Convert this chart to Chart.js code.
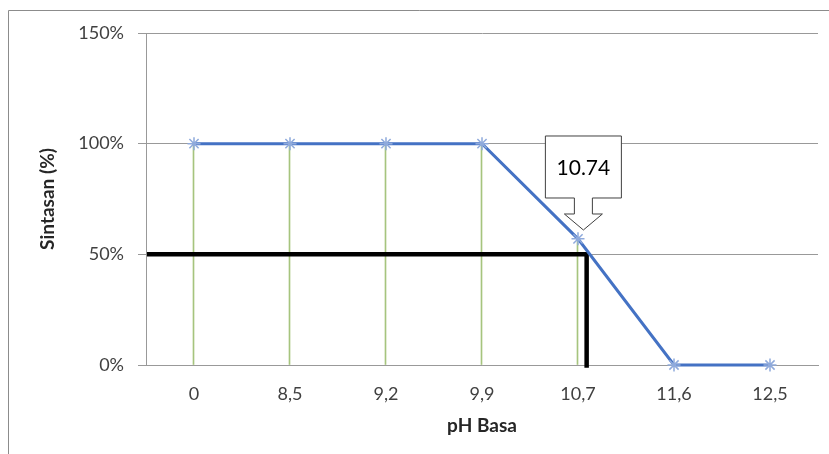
<!DOCTYPE html>
<html>
<head>
<meta charset="utf-8">
<script src="https://cdn.jsdelivr.net/npm/chart.js@4"></script>
<style>
  html, body { margin: 0; padding: 0; background: #fff; }
  #wrap { width: 829px; height: 454px; position: relative; }
</style>
</head>
<body>
<div id="wrap"><canvas id="c" width="829" height="454"></canvas></div>
<script>
// ---- data ----
const categories = ['0', '8,5', '9,2', '9,9', '10,7', '11,6', '12,5'];
const survival = [100, 100, 100, 100, 57, 0, 0];
const yTicks = [0, 50, 100, 150];
const lc50Label = '10.74';
const lc50Survival = 50;          // horizontal black line level (%)
const lc50Position = 4.09;        // position on category axis (index units)
const calloutTip = [4.056, 61];   // arrow tip [index units, %]

const FONT = 'Lato, "Open Sans", sans-serif';

const framePlugin = {
  id: 'frame',
  beforeDraw(chart) {
    const ctx = chart.ctx;
    ctx.save();
    ctx.fillStyle = '#fff';
    ctx.fillRect(0, 0, chart.width, chart.height);
    ctx.strokeStyle = '#8c8c8c';
    ctx.lineWidth = 1;
    ctx.beginPath();
    ctx.moveTo(8.5, chart.height + 2);
    ctx.lineTo(8.5, 10.5);
    ctx.lineTo(chart.width + 2, 10.5);
    ctx.stroke();
    ctx.restore();
  }
};

const calloutPlugin = {
  id: 'callout',
  afterDatasetsDraw(chart) {
    const ctx = chart.ctx;
    const xs = chart.scales.x2, ys = chart.scales.y;
    const tx = xs.getPixelForValue(calloutTip[0]);
    const ty = ys.getPixelForValue(calloutTip[1]);
    const boxL = tx - 38, boxR = tx + 38, boxT = ty - 94, boxB = ty - 32;
    const stemHalf = 9, headHalf = 19, headBase = ty - 16;
    ctx.save();
    ctx.beginPath();
    ctx.moveTo(boxL, boxT);
    ctx.lineTo(boxR, boxT);
    ctx.lineTo(boxR, boxB);
    ctx.lineTo(tx + stemHalf, boxB);
    ctx.lineTo(tx + stemHalf, headBase);
    ctx.lineTo(tx + headHalf, headBase);
    ctx.lineTo(tx, ty);
    ctx.lineTo(tx - headHalf, headBase);
    ctx.lineTo(tx - stemHalf, headBase);
    ctx.lineTo(tx - stemHalf, boxB);
    ctx.lineTo(boxL, boxB);
    ctx.closePath();
    ctx.fillStyle = '#fff';
    ctx.fill();
    ctx.strokeStyle = '#404040';
    ctx.lineWidth = 1;
    ctx.stroke();
    ctx.fillStyle = '#000';
    ctx.font = '21px ' + FONT;
    ctx.textAlign = 'center';
    ctx.textBaseline = 'middle';
    ctx.fillText(lc50Label, tx, (boxT + boxB) / 2 + 1);
    ctx.restore();
  }
};

new Chart(document.getElementById('c'), {
  data: {
    labels: categories,
    datasets: [
      {
        type: 'line',
        data: survival,
        borderColor: '#4472C4',
        borderWidth: 3,
        pointStyle: 'star',
        pointRadius: 6.5,
        pointBorderColor: '#8FAADC',
        pointBorderWidth: 1.5,
        pointBackgroundColor: '#8FAADC',
        tension: 0,
        order: 1,
        clip: false
      },
      {
        type: 'line',
        xAxisID: 'x2',
        data: [
          { x: -0.49, y: lc50Survival },
          { x: lc50Position, y: lc50Survival },
          { x: lc50Position, y: -1.2 }
        ],
        borderColor: '#000',
        borderWidth: 4.5,
        borderJoinStyle: 'miter',
        borderCapStyle: 'butt',
        pointRadius: 0,
        tension: 0,
        order: 2,
        clip: false
      },
      {
        type: 'bar',
        data: survival,
        backgroundColor: '#A6C47E',
        barThickness: 1,
        order: 3
      }
    ]
  },
  options: {
    responsive: false,
    animation: false,
    layout: { padding: { left: 0, top: 33, right: 11, bottom: 0 } },
    plugins: { legend: { display: false }, tooltip: { enabled: false } },
    scales: {
      x: {
        type: 'category',
        offset: true,
        grid: { display: false, drawTicks: false },
        border: { display: true, color: '#999', width: 1 },
        ticks: { color: '#404040', font: { family: FONT, size: 18 }, padding: 18, maxRotation: 0 },
        title: { display: true, text: 'pH Basa', color: '#262626', font: { family: FONT, size: 19, weight: 'bold' }, padding: { top: 0, bottom: 17 } },
        afterFit(s) { s.height = 89; }
      },
      x2: {
        type: 'linear',
        min: -0.5,
        max: 6.5,
        display: false,
        offset: false
      },
      y: {
        min: 0,
        max: 150,
        afterBuildTicks(s) { s.ticks = yTicks.map(v => ({ value: v })); },
        grid: { color: '#999', tickLength: 8, drawTicks: true },
        border: { display: true, color: '#999', width: 1 },
        ticks: { color: '#404040', font: { family: FONT, size: 18 }, padding: 14, callback: v => v + '%' },
        title: { display: true, text: 'Sintasan (%)', color: '#262626', font: { family: FONT, size: 19, weight: 'bold' }, padding: { top: 36, bottom: 0 } },
        afterFit(s) { s.width = 146; }
      }
    }
  },
  plugins: [framePlugin, calloutPlugin]
});
</script>
</body>
</html>
